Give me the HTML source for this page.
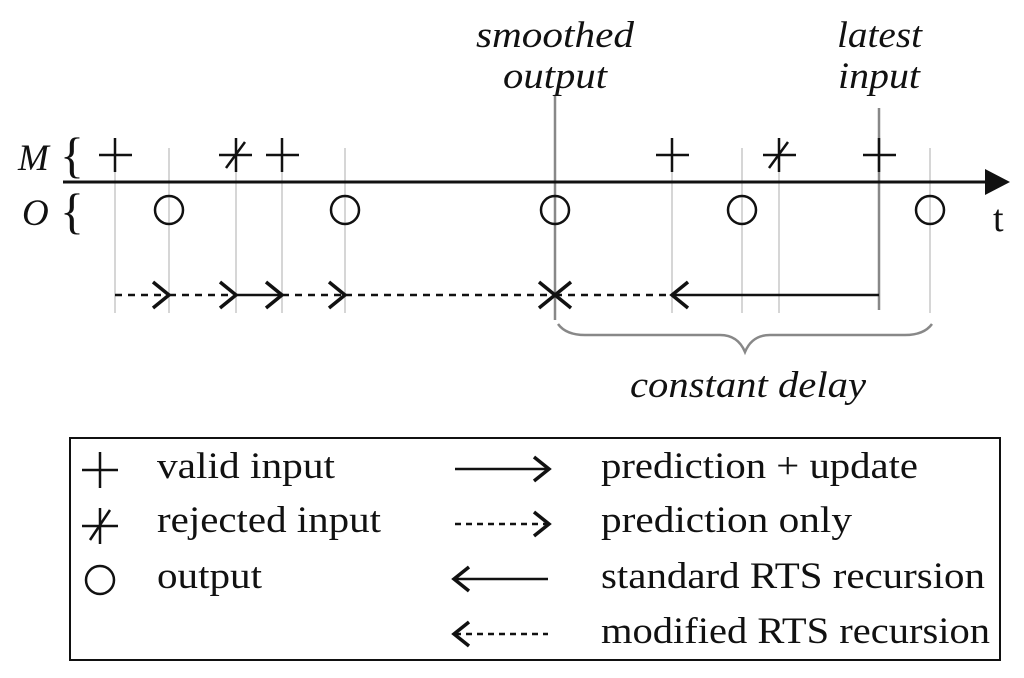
<!DOCTYPE html>
<html><head><meta charset="utf-8"><style>
html,body{margin:0;padding:0;background:#fff;}
svg{display:block;}
text{font-family:"Liberation Serif",serif;fill:#111;}
.it{font-style:italic;}
</style></head><body>
<svg width="1024" height="678" viewBox="0 0 1024 678" xmlns="http://www.w3.org/2000/svg">
<g stroke="#c8c8c8" stroke-width="1.5">
<line x1="115" y1="148" x2="115" y2="313"/>
<line x1="169" y1="148" x2="169" y2="313"/>
<line x1="236" y1="148" x2="236" y2="313"/>
<line x1="282" y1="148" x2="282" y2="313"/>
<line x1="345" y1="148" x2="345" y2="313"/>
<line x1="672" y1="148" x2="672" y2="313"/>
<line x1="742" y1="148" x2="742" y2="313"/>
<line x1="779" y1="148" x2="779" y2="313"/>
<line x1="930" y1="148" x2="930" y2="313"/>
</g>
<g stroke="#888" stroke-width="2.5">
<line x1="555" y1="95" x2="555" y2="320"/>
<line x1="879" y1="108" x2="879" y2="310"/>
</g>
<g font-size="37" class="it">
<text x="476" y="47" textLength="158" lengthAdjust="spacingAndGlyphs">smoothed</text>
<text x="503" y="88" textLength="104" lengthAdjust="spacingAndGlyphs">output</text>
<text x="837" y="47" textLength="85" lengthAdjust="spacingAndGlyphs">latest</text>
<text x="838" y="88" textLength="82" lengthAdjust="spacingAndGlyphs">input</text>
<text x="18" y="170">M</text>
<text x="22" y="225">O</text>
</g>
<text x="60" y="172" font-size="50">{</text>
<text x="60" y="228" font-size="50">{</text>
<text x="993" y="231" font-size="38">t</text>
<line x1="63" y1="182" x2="988" y2="182" stroke="#111" stroke-width="3"/>
<polygon points="985,169 1010,182 985,195" fill="#111"/>
<g stroke="#111" stroke-width="2.5" fill="none">
<path d="M99 155H132M115 138V172"/>
<path d="M219 155H252M236 138V172M226 168L245 142"/>
<path d="M266 155H299M282 138V172"/>
<path d="M656 155H689M672 138V172"/>
<path d="M763 155H796M779 138V172M769 168L788 142"/>
<path d="M863 155H896M879 138V172"/>
<circle cx="169" cy="210" r="14"/>
<circle cx="345" cy="210" r="14"/>
<circle cx="555" cy="210" r="14"/>
<circle cx="742" cy="210" r="14"/>
<circle cx="930" cy="210" r="14"/>
</g>
<g stroke="#111" stroke-width="2.5" fill="none">
<path d="M115 295H169M169 295H236M282 295H345M345 295H555M555 295H672" stroke-dasharray="7,6"/>
<path d="M236 295H282M672 295H879"/>
</g>
<g stroke="#111" stroke-width="3.5" fill="none">
<path d="M153 282L169 295L153 308"/>
<path d="M220 282L236 295L220 308"/>
<path d="M266 282L282 295L266 308"/>
<path d="M329 282L345 295L329 308"/>
<path d="M539 282L555 295L539 308"/>
<path d="M571 282L555 295L571 308"/>
<path d="M688 282L672 295L688 308"/>
</g>
<path d="M558 324Q566 335 585 335L720 335Q738 335 745 352Q752 335 770 335L905 335Q924 335 932 324" stroke="#888" stroke-width="2.5" fill="none"/>
<text class="it" x="630" y="397" font-size="37" textLength="236" lengthAdjust="spacingAndGlyphs">constant delay</text>
<rect x="70" y="438" width="930" height="222" fill="none" stroke="#111" stroke-width="2"/>
<g stroke="#111" stroke-width="2.5" fill="none">
<path d="M82 470H118M100 452V488"/>
<path d="M82 526H118M100 508V544M90 540L110 510"/>
<circle cx="100" cy="580" r="14"/>
</g>
<g font-size="37">
<text x="157" y="478" textLength="178" lengthAdjust="spacingAndGlyphs">valid input</text>
<text x="157" y="532" textLength="224" lengthAdjust="spacingAndGlyphs">rejected input</text>
<text x="157" y="588" textLength="105" lengthAdjust="spacingAndGlyphs">output</text>
<text x="601" y="478" textLength="317" lengthAdjust="spacingAndGlyphs">prediction + update</text>
<text x="601" y="532" textLength="251" lengthAdjust="spacingAndGlyphs">prediction only</text>
<text x="601" y="588" textLength="384" lengthAdjust="spacingAndGlyphs">standard RTS recursion</text>
<text x="601" y="643" textLength="389" lengthAdjust="spacingAndGlyphs">modified RTS recursion</text>
</g>
<g stroke="#111" stroke-width="2.5" fill="none">
<path d="M455 469H548"/>
<path d="M455 524H548" stroke-dasharray="6,5"/>
<path d="M455 579H548"/>
<path d="M455 634H548" stroke-dasharray="6,5"/>
</g>
<g stroke="#111" stroke-width="3.5" fill="none">
<path d="M534 457L549 469L534 481"/>
<path d="M534 512L549 524L534 536"/>
<path d="M469 567L454 579L469 591"/>
<path d="M469 622L454 634L469 646"/>
</g>
</svg>
</body></html>
